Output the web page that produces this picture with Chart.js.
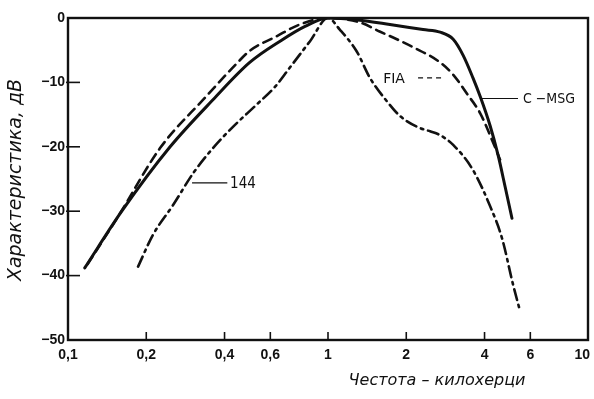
<!DOCTYPE html>
<html>
<head>
<meta charset="utf-8">
<script src="https://cdn.jsdelivr.net/npm/chart.js@4"></script>
<style>
  html, body { margin: 0; padding: 0; background: #fff; }
  #wrap { width: 594px; height: 399px; position: relative; }
</style>
</head>
<body>
<div id="wrap"><canvas id="c" width="594" height="399"></canvas></div>
<script>
// Frequency response curves, kHz vs dB
const msgFreq = [0.116, 0.161, 0.247, 0.361, 0.5, 0.654, 0.816, 1.0, 1.3, 1.73, 2.32, 2.70, 3.03, 3.31, 3.61, 3.85, 4.2, 4.51, 4.8, 5.1];
const msgDb   = [-38.8, -30, -20, -12.7, -6.9, -3.6, -1.3, 0, -0.3, -1.0, -1.8, -2.2, -3.3, -5.8, -9.3, -12.2, -16.7, -21.3, -26.2, -31.1];

const fiaFreq = [0.119, 0.156, 0.226, 0.336, 0.447, 0.5, 0.637, 0.78, 1.0, 1.33, 1.58, 1.84, 2.12, 2.70, 3.03, 3.43, 3.85, 4.27, 4.59];
const fiaDb   = [-38.2, -30.8, -20.2, -12.4, -7.0, -5.1, -2.8, -1.0, 0, -0.7, -2.1, -3.3, -4.5, -6.9, -8.8, -11.8, -14.8, -18.9, -22];

const c144Freq = [0.186, 0.212, 0.254, 0.303, 0.361, 0.431, 0.533, 0.625, 0.71, 0.853, 1.0, 1.11, 1.29, 1.45, 1.69, 1.89, 2.2, 2.47, 2.70, 3.03, 3.61, 4.2, 4.67, 5.15, 5.47];
const c144Db   = [-38.6, -33.7, -29.0, -24.1, -20.2, -16.9, -13.4, -10.7, -7.8, -3.6, 0, -1.8, -5.2, -9.3, -13.0, -15.2, -16.9, -17.6, -18.2, -19.7, -23.6, -29.2, -34.2, -41.4, -45.4];

const xTickValues = [0.1, 0.2, 0.4, 0.6, 1, 2, 4, 6, 10];
const yTickValues = [0, -10, -20, -30, -40, -50];
const tickFont = { family: '"Liberation Sans", "DejaVu Sans", sans-serif', size: 14, weight: 'bold' };
const xLabel = v => String(v).replace('.', ',');

// Curve labels with their leader lines (in kHz / dB)
const labelNames = ['FIA', 'C \u2212MSG', '144'];
const labelFreq  = [1.63, 5.62, 0.42];
const labelDb    = [-9.3, -12.5, -25.6];
const leaderFrom = [2.22, 3.85, 0.30];
const leaderTo   = [2.77, 5.38, 0.41];
const leaderDash = [[5, 4], [], []];
const labelFonts = ['14px "DejaVu Sans", sans-serif', '14px "DejaVu Sans Condensed", "DejaVu Sans", sans-serif', '15px "DejaVu Sans Condensed", "DejaVu Sans", sans-serif'];

const toPts = (xs, ys) => xs.map((x, i) => ({ x, y: ys[i] }));
const lastX = xTickValues[xTickValues.length - 1];

const frame = {
  id: 'frame',
  afterDatasetsDraw(chart) {
    const { ctx, chartArea: a, scales: { x, y } } = chart;
    ctx.save();
    ctx.strokeStyle = '#111';
    ctx.lineWidth = 2.4;
    ctx.strokeRect(a.left, a.top, a.right - a.left, a.bottom - a.top);
    ctx.lineWidth = 1.6;
    // inner tick marks
    yTickValues.slice(1, -1).forEach(v => {
      const py = y.getPixelForValue(v);
      ctx.beginPath(); ctx.moveTo(a.left - 2, py); ctx.lineTo(a.left + 12, py); ctx.stroke();
    });
    xTickValues.slice(1, -1).forEach(v => {
      const px = x.getPixelForValue(v);
      ctx.beginPath(); ctx.moveTo(px, a.bottom); ctx.lineTo(px, a.bottom - 8); ctx.stroke();
    });
    // last x label sits flush against the right edge
    ctx.fillStyle = '#111';
    ctx.font = `bold ${tickFont.size}px ${tickFont.family}`;
    ctx.textAlign = 'right';
    ctx.textBaseline = 'middle';
    ctx.fillText(xLabel(lastX), x.getPixelForValue(lastX) + 2, a.bottom + 7 + tickFont.size * 0.6);
    // labels and leaders
    ctx.textAlign = 'left';
    labelNames.forEach((t, i) => {
      const py = y.getPixelForValue(labelDb[i]);
      ctx.setLineDash(leaderDash[i]);
      ctx.lineWidth = 1.2;
      ctx.beginPath();
      ctx.moveTo(x.getPixelForValue(leaderFrom[i]), py);
      ctx.lineTo(x.getPixelForValue(leaderTo[i]), py);
      ctx.stroke();
      ctx.setLineDash([]);
      ctx.font = labelFonts[i];
      ctx.fillText(t, x.getPixelForValue(labelFreq[i]), py + 1);
    });
    // axis titles
    ctx.textAlign = 'center';
    ctx.font = 'oblique 16px "DejaVu Sans", sans-serif';
    ctx.fillText('\u0427естота \u2013 килохерци', 437, 381);
    ctx.translate(16, 180);
    ctx.rotate(-Math.PI / 2);
    ctx.font = 'oblique 19px "DejaVu Sans", sans-serif';
    ctx.fillText('Характеристика, дВ', 0, 0);
    ctx.restore();
  }
};

const lineStyle = { borderColor: '#111', pointRadius: 0, cubicInterpolationMode: 'monotone', fill: false, borderCapStyle: 'round' };

new Chart(document.getElementById('c'), {
  type: 'line',
  data: {
    datasets: [
      { label: 'C-MSG', data: toPts(msgFreq, msgDb), borderWidth: 3, ...lineStyle },
      { label: 'FIA', data: toPts(fiaFreq, fiaDb), borderWidth: 2.6, borderDash: [9, 6], ...lineStyle },
      { label: '144', data: toPts(c144Freq, c144Db), borderWidth: 2.6, borderDash: [11, 5, 2.5, 5], ...lineStyle }
    ]
  },
  options: {
    responsive: false,
    animation: false,
    layout: { padding: { left: 0, right: 6, top: 18, bottom: 0 } },
    plugins: { legend: { display: false }, tooltip: { enabled: false } },
    scales: {
      x: {
        type: 'logarithmic', min: 0.1, max: 10,
        grid: { display: false, drawTicks: false },
        border: { display: false },
        afterBuildTicks: s => { s.ticks = xTickValues.map(v => ({ value: v })); },
        afterFit: s => { s.height = 59; s.paddingLeft = 0; s.paddingRight = 0; },
        ticks: {
          autoSkip: false, maxRotation: 0, padding: 7, color: '#111',
          font: tickFont,
          callback: v => v === lastX ? '' : xLabel(v)
        }
      },
      y: {
        type: 'linear', min: -50, max: 0,
        grid: { display: false, drawTicks: false },
        border: { display: false },
        afterBuildTicks: s => { s.ticks = yTickValues.map(v => ({ value: v })); },
        afterFit: s => { s.width = 68; s.paddingTop = 0; s.paddingBottom = 0; },
        ticks: {
          padding: 3, color: '#111',
          font: tickFont,
          callback: v => v === 0 ? '0' : '\u2212' + Math.abs(v)
        }
      }
    }
  },
  plugins: [frame]
});
</script>
</body>
</html>
